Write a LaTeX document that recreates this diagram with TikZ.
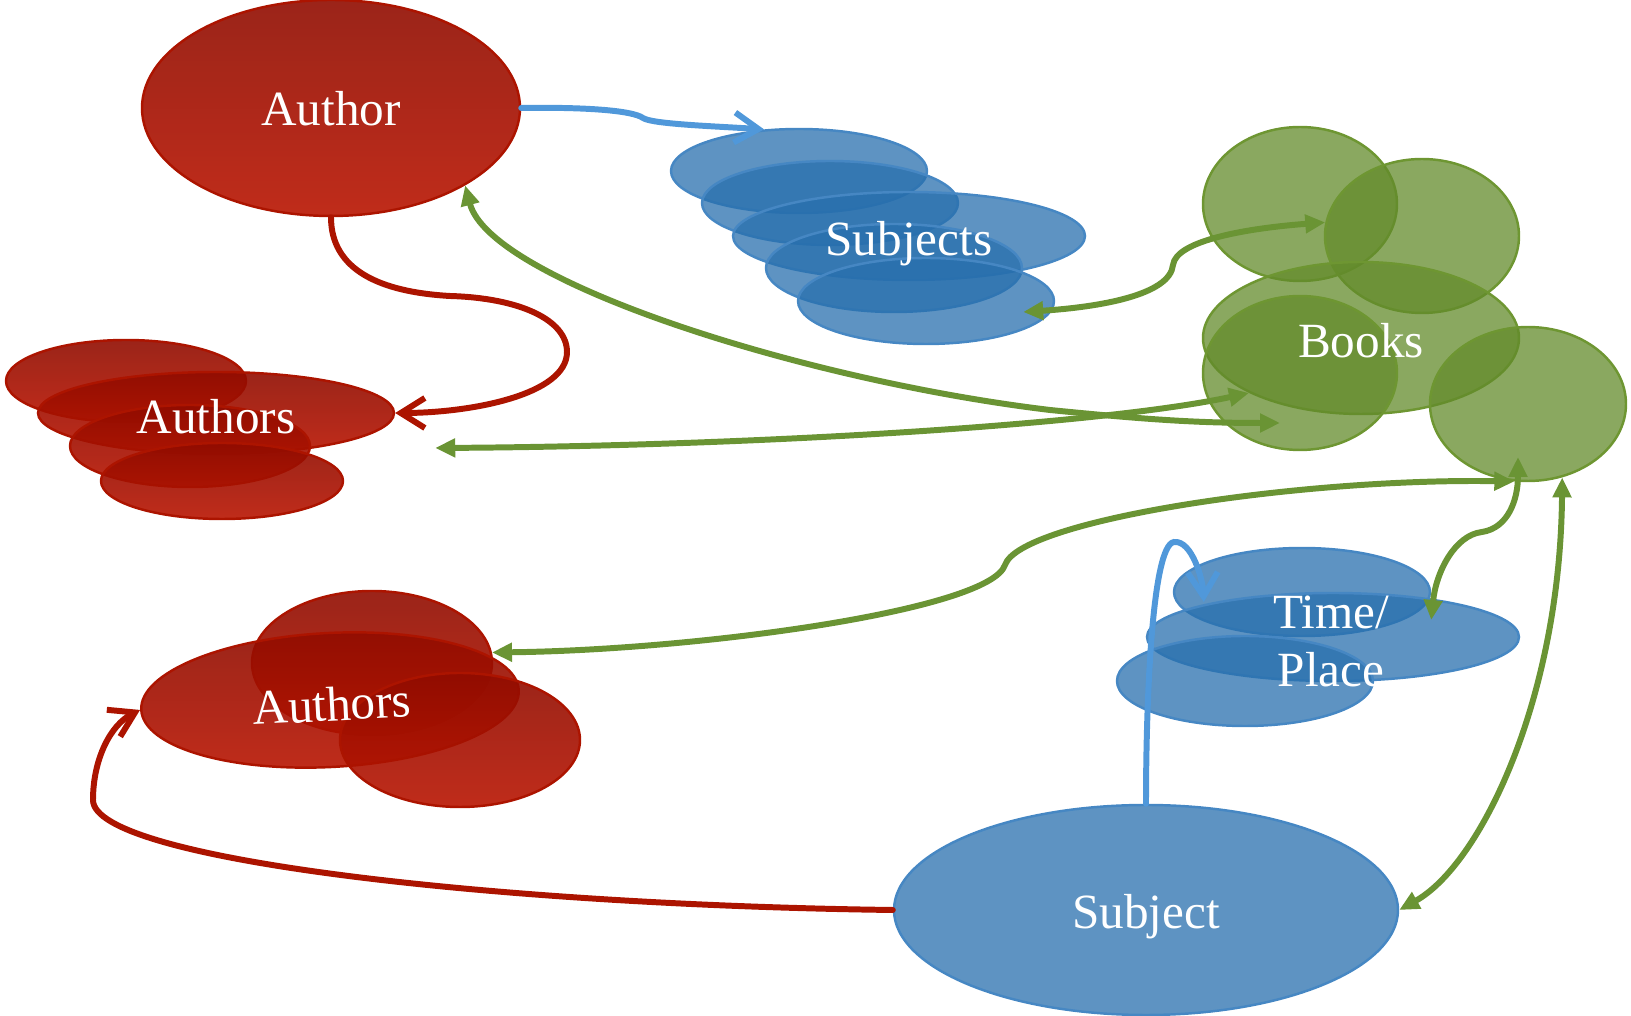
\documentclass[tikz,border=0pt]{standalone}
\usepackage{fontspec}
\setmainfont{Liberation Serif}
\usetikzlibrary{shapes.geometric,arrows.meta}

\definecolor{redtop}{RGB}{144,12,0}
\definecolor{redbot}{RGB}{185,21,1}
\definecolor{redline}{RGB}{172,20,0}
\definecolor{bluefill}{RGB}{40,111,173}
\definecolor{blueedge}{RGB}{70,135,195}
\definecolor{blueline}{RGB}{80,152,218}
\definecolor{greenfill}{RGB}{99,139,43}
\definecolor{greenedge}{RGB}{110,150,50}
\definecolor{greenline}{RGB}{106,148,52}

\begin{document}
\begin{tikzpicture}[
  x=0.1mm, y=-0.1mm,
  blob/.style={
        ellipse,
        inner sep=0pt,
        line width=0.7pt
  },
  redblob/.style={blob, draw=redline, top color=redtop, bottom color=redbot, fill opacity=0.9},
  blueblob/.style={blob, draw=blueedge, fill=bluefill, fill opacity=0.75},
  greenblob/.style={blob, draw=greenedge, fill=greenfill, fill opacity=0.75},
  lbl/.style={text=white, font=\fontsize{14}{16.5}\selectfont, align=center},
  redarrow/.style={draw=redline, line width=1.7pt, line cap=round, -{Straight Barb[length=2.4mm,width=3mm]}},
  bluearrow/.style={draw=blueline, line width=1.7pt, line cap=round, -{Straight Barb[length=2.4mm,width=3mm]}},
  greenarrow/.style={draw=greenline, line width=1.7pt, {Triangle[length=2mm,width=1.8mm]}-{Triangle[length=2mm,width=1.8mm]}}
]

    \useasboundingbox (0,0) rectangle (1631,1016);

    \node[redblob, minimum width=37.8mm, minimum height=21.6mm] (Author) at (331,108) {};

    \node[redblob, minimum width=24mm, minimum height=8.2mm] (Authors1_1) at (126,381) {};
    \node[redblob, minimum width=35.6mm, minimum height=8.2mm] (Authors1_2) at (216,413) {};
    \node[redblob, minimum width=24mm, minimum height=8.2mm] (Authors1_3) at (190,446) {};
    \node[redblob, minimum width=24.2mm, minimum height=7.6mm] (Authors1_4) at (222,481) {};

    \node[blueblob, minimum width=25.6mm, minimum height=8.4mm] (Subjects_1) at (799,171) {};
    \node[blueblob, minimum width=25.6mm, minimum height=8.4mm] (Subjects_2) at (830,203) {};
    \node[blueblob, minimum width=35.2mm, minimum height=8.8mm] (Subjects_3) at (909,236) {};
    \node[blueblob, minimum width=25.6mm, minimum height=8.8mm] (Subjects_4) at (894,268) {};
    \node[blueblob, minimum width=25.6mm, minimum height=8.6mm] (Subjects_5) at (926,301) {};

    \node[greenblob, minimum width=19.4mm, minimum height=15.4mm] (Books_1) at (1300,204) {};
    \node[greenblob, minimum width=19.4mm, minimum height=15.4mm] (Books_2) at (1422,236) {};
    \node[greenblob, minimum width=31.6mm, minimum height=15.2mm] (Books_3) at (1361,338) {};
    \node[greenblob, minimum width=19.4mm, minimum height=15.4mm] (Books_4) at (1300,373) {};
    \node[greenblob, minimum width=19.6mm, minimum height=15.4mm] (Books_5) at (1528,404) {};

    \node[redblob, minimum width=24mm, minimum height=14.4mm] (Authors2_1) at (372,663) {};
    \node[redblob, minimum width=37.8mm, minimum height=13.4mm, rotate=3] (Authors2_2) at (330,700) {};
    \node[redblob, minimum width=24mm, minimum height=13.4mm] (Authors2_3) at (460,740) {};

    \node[blueblob, minimum width=25.6mm, minimum height=8.8mm] (Time_1) at (1302,592) {};
    \node[blueblob, minimum width=37.2mm, minimum height=8.8mm] (Time_2) at (1333,637) {};
    \node[blueblob, minimum width=25.6mm, minimum height=9mm] (Time_3) at (1245,681) {};

    \node[blueblob, minimum width=50.4mm, minimum height=21mm] (Subject) at (1146,910) {};

    \node[lbl] (Author_t) at (331,109) {Author};
    \node[lbl] (Authors1_t) at (216,417) {Authors};
    \node[lbl] (Subjects_t) at (909,244) {Subjects};
    \node[lbl] (Books_t) at (1361,341) {Books};
    \node[lbl, rotate=3] (Authors2_t) at (332,704) {Authors};
    \node[lbl] (Time_t) at (1331,641) {Time/\\Place};
    \node[lbl] (Subject_t) at (1146,917) {Subject};

    \draw[bluearrow] (Author.east) .. controls (580,107) and (632,110) .. (643,118)
        .. controls (652,124) and (710,126) .. (Subjects_1.130);
    \draw[redarrow] (Author.south) .. controls (331,270) and (380,292) .. (450,296)
        .. controls (520,298) and (567,320) .. (567,352)
        .. controls (567,395) and (470,413) .. (Authors1_2.east);
    \draw[greenarrow] (Author.-30) .. controls (490,280) and (800,380) .. (1050,410)
        .. controls (1150,420) and (1200,423) .. ([shift={(-20,50)}]Books_4.center);
    \draw[greenarrow] ([shift={(40,35)}]Authors1_2.east) .. controls (750,446) and (1100,425)
        .. ([shift={(-51,20)}]Books_4.center);
    \draw[greenarrow] ([shift={(-32,11)}]Subjects_5.east) .. controls (1100,307) and (1170,295) .. (1173,265)
        .. controls (1176,240) and (1250,228) .. (Books_2.172);
    \draw[greenarrow] (Authors2_1.5) .. controls (700,650) and (990,610) .. (1005,565)
        .. controls (1020,520) and (1300,478) .. (Books_5.-100);
    \draw[greenarrow] ([shift={(0,28)}]Time_1.east) .. controls (1436,572) and (1455,535) .. (1482,532)
        .. controls (1508,528) and (1518,500) .. ([shift={(-10,53)}]Books_5.center);
    \draw[greenarrow] (Subject.east) .. controls (1480,865) and (1560,700) .. (Books_5.-65);
    \draw[bluearrow] (Subject.north) .. controls (1146,700) and (1152,545) .. (1174,542)
        .. controls (1192,540) and (1203,580) .. ([shift={(31,10)}]Time_1.west);
    \draw[redarrow] (Subject.west) .. controls (500,905) and (93,860) .. (93,800)
        .. controls (93,760) and (110,725) .. (Authors2_2.west);
\end{tikzpicture}
\end{document}
